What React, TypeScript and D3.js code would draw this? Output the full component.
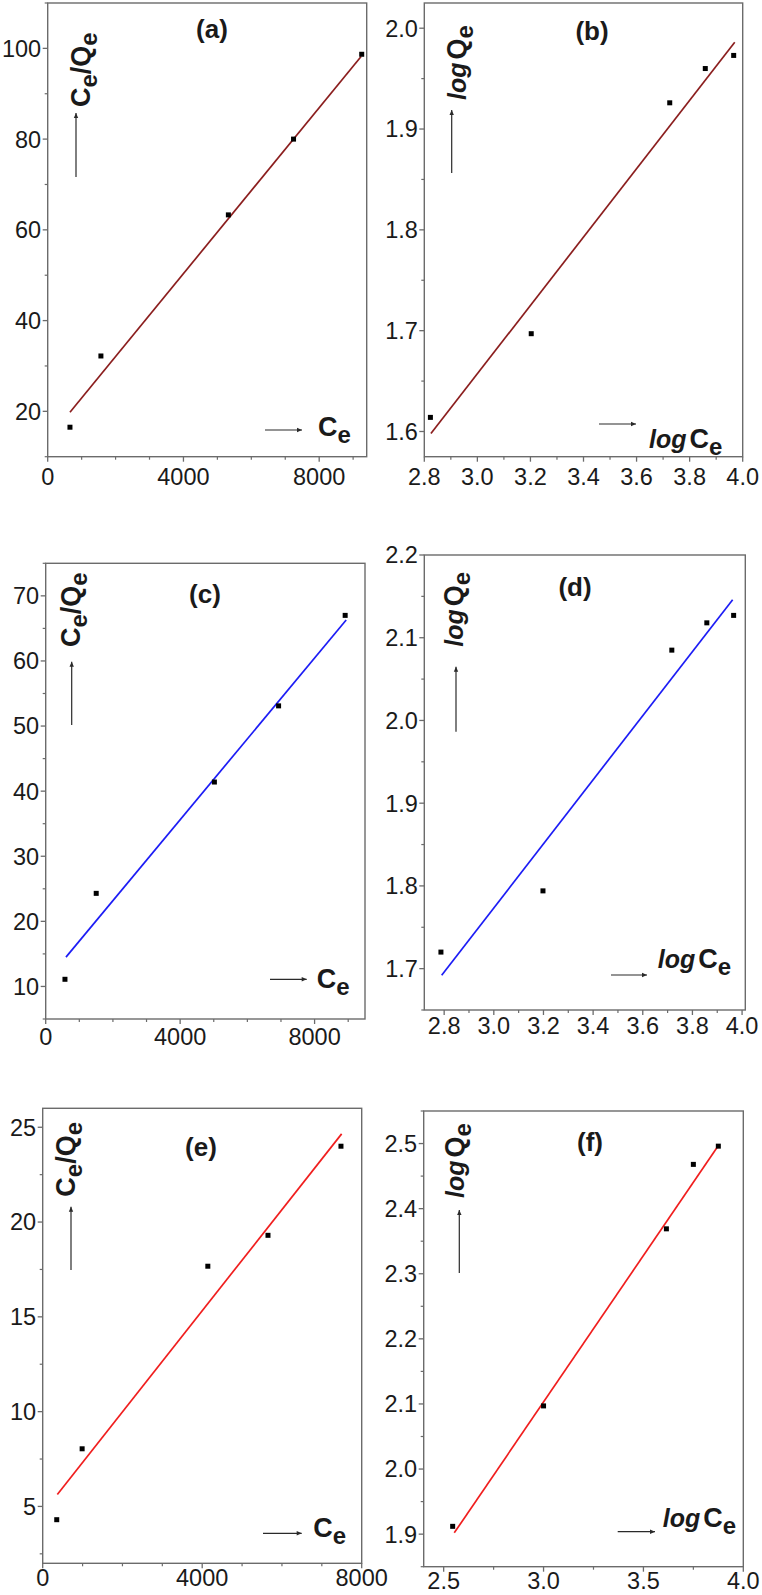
import React from "react";
import * as d3 from "d3";

// ---------- data ----------
// (a) Langmuir, dark red fit
const aCe = [656, 1568, 5324, 7244, 9253];
const aCeQe = [16.5, 32.2, 63.3, 80.0, 98.7];
const aFitX = [656, 9235];
const aFitY = [19.8, 98.2];
const aXTicks = [0, 4000, 8000];
const aYTicks = [20, 40, 60, 80, 100];

// (b) Freundlich, dark red fit
const bLogCe = [2.823, 3.203, 3.725, 3.859, 3.966];
const bLogQe = [1.614, 1.697, 1.926, 1.96, 1.973];
const bFitX = [2.825, 3.97];
const bFitY = [1.598, 1.986];
const bXTicks = [2.8, 3.0, 3.2, 3.4, 3.6, 3.8, 4.0];
const bYTicks = [1.6, 1.7, 1.8, 1.9, 2.0];

// (c) Langmuir, blue fit
const cCe = [573, 1503, 5019, 6929, 8910];
const cCeQe = [11.1, 24.3, 41.4, 53.1, 67.0];
const cFitX = [603, 8940];
const cFitY = [14.5, 66.3];
const cXTicks = [0, 4000, 8000];
const cYTicks = [10, 20, 30, 40, 50, 60, 70];

// (d) Freundlich, blue fit
const dLogCe = [2.787, 3.198, 3.717, 3.858, 3.966];
const dLogQe = [1.72, 1.794, 2.085, 2.118, 2.127];
const dFitX = [2.79, 3.962];
const dFitY = [1.692, 2.146];
const dXTicks = [2.8, 3.0, 3.2, 3.4, 3.6, 3.8, 4.0];
const dYTicks = [1.7, 1.8, 1.9, 2.0, 2.1, 2.2];

// (e) Langmuir, red fit
const eCe = [352, 989, 4141, 5650, 7480];
const eCeQe = [4.3, 8.04, 17.67, 19.3, 24.0];
const eFitX = [367, 7497];
const eFitY = [5.63, 24.65];
const eXTicks = [0, 4000, 8000];
const eYTicks = [5, 10, 15, 20, 25];

// (f) Freundlich, red fit
const fLogCe = [2.545, 3.0, 3.615, 3.75, 3.875];
const fLogQe = [1.912, 2.097, 2.369, 2.468, 2.496];
const fFitX = [2.553, 3.878];
const fFitY = [1.902, 2.498];
const fXTicks = [2.5, 3.0, 3.5, 4.0];
const fYTicks = [1.9, 2.0, 2.1, 2.2, 2.3, 2.4, 2.5];

const AXIS = "#6b6b6b";
const TXT = "#1a1a1a";
const FONT = "'Liberation Sans', Arial, sans-serif";
const TICK_FS = 23.5;

type PanelProps = {
  box: [number, number, number, number];
  xDomain: [number, number];
  yDomain: [number, number];
  xTicks: number[];
  yTicks: number[];
  xMinorStep: number;
  yMinorStep: number;
  xFmt: (v: number) => string;
  yFmt: (v: number) => string;
  xs: number[];
  ys: number[];
  fitX: number[];
  fitY: number[];
  color: string;
  title: string;
  titlePos: [number, number];
  xLabelBase: number;
  kind: "lang" | "freund";
  yLab: [number, number];
  vArrow: [number, number, number];
  xLab: [number, number];
  hArrow: [number, number, number];
};

function Arrow({ x1, y1, x2, y2 }: { x1: number; y1: number; x2: number; y2: number }) {
  const ang = Math.atan2(y2 - y1, x2 - x1);
  const L = 5, Wd = 2.2;
  const p = [
    [x2, y2],
    [x2 - L * Math.cos(ang) + Wd * Math.sin(ang), y2 - L * Math.sin(ang) - Wd * Math.cos(ang)],
    [x2 - L * Math.cos(ang) - Wd * Math.sin(ang), y2 - L * Math.sin(ang) + Wd * Math.cos(ang)],
  ];
  return (
    <g>
      <line x1={x1} y1={y1} x2={x2} y2={y2} stroke="#2a2a2a" strokeWidth={1.2} />
      <polygon points={p.map((q) => q.join(",")).join(" ")} fill="#2a2a2a" />
    </g>
  );
}

function Panel(p: PanelProps) {
  const [l, t, r, b] = p.box;
  const x = d3.scaleLinear().domain(p.xDomain).range([l, r]);
  const y = d3.scaleLinear().domain(p.yDomain).range([b, t]);
  const eps = 1e-9;
  const xMinor = d3
    .range(Math.ceil(p.xDomain[0] / p.xMinorStep - eps) * p.xMinorStep, p.xDomain[1] + eps, p.xMinorStep)
    .filter((v) => !p.xTicks.some((m) => Math.abs(m - v) < p.xMinorStep / 10));
  const yMinor = d3
    .range(Math.ceil(p.yDomain[0] / p.yMinorStep - eps) * p.yMinorStep, p.yDomain[1] + eps, p.yMinorStep)
    .filter((v) => !p.yTicks.some((m) => Math.abs(m - v) < p.yMinorStep / 10));
  const line = d3
    .line<number>()
    .x((_, i) => x(p.fitX[i]))
    .y((d) => y(d));
  const big = 27, sub = 24, logFs = 25, sdy = 7;
  return (
    <g>
      <rect x={l} y={t} width={r - l} height={b - t} fill="none" stroke={AXIS} strokeWidth={1.4} />
      {p.xTicks.map((v) => (
        <g key={"xt" + v}>
          <line x1={x(v)} x2={x(v)} y1={b} y2={b + 5} stroke={AXIS} strokeWidth={1.3} />
          <text x={x(v)} y={p.xLabelBase} textAnchor="middle" fontSize={TICK_FS} fill={TXT} fontFamily={FONT}>
            {p.xFmt(v)}
          </text>
        </g>
      ))}
      {xMinor.map((v) => (
        <line key={"xm" + v} x1={x(v)} x2={x(v)} y1={b} y2={b + 3} stroke={AXIS} strokeWidth={1.2} />
      ))}
      {p.yTicks.map((v) => (
        <g key={"yt" + v}>
          <line x1={l - 5} x2={l} y1={y(v)} y2={y(v)} stroke={AXIS} strokeWidth={1.3} />
          <text x={l - 6.5} y={y(v) + 8.4} textAnchor="end" fontSize={TICK_FS} fill={TXT} fontFamily={FONT}>
            {p.yFmt(v)}
          </text>
        </g>
      ))}
      {yMinor.map((v) => (
        <line key={"ym" + v} x1={l - 3} x2={l} y1={y(v)} y2={y(v)} stroke={AXIS} strokeWidth={1.2} />
      ))}
      <path d={line(p.fitY) || ""} fill="none" stroke={p.color} strokeWidth={1.7} />
      {p.xs.map((v, i) => (
        <rect key={"pt" + i} x={x(v) - 2.5} y={y(p.ys[i]) - 2.5} width={5} height={5} fill="#000" />
      ))}
      <text x={p.titlePos[0]} y={p.titlePos[1]} textAnchor="middle" fontSize={26} fontWeight="bold" fill={TXT} fontFamily={FONT}>
        {p.title}
      </text>
      {/* y label */}
      <text
        transform={`translate(${p.yLab[0]},${p.yLab[1]}) rotate(-90)`}
        fontSize={big}
        fontWeight="bold"
        fill={TXT}
        fontFamily={FONT}
      >
        {p.kind === "lang" ? (
          <>
            <tspan>C</tspan>
            <tspan fontSize={sub} dy={sdy}>e</tspan>
            <tspan dy={-sdy}>/Q</tspan>
            <tspan fontSize={sub} dy={sdy}>e</tspan>
          </>
        ) : (
          <>
            <tspan fontStyle="italic" fontSize={logFs}>log</tspan>
            <tspan dx={3}>Q</tspan>
            <tspan fontSize={sub} dy={sdy}>e</tspan>
          </>
        )}
      </text>
      <Arrow x1={p.vArrow[0]} y1={p.vArrow[1]} x2={p.vArrow[0]} y2={p.vArrow[2]} />
      {/* x label */}
      <text x={p.xLab[0]} y={p.xLab[1]} fontSize={big} fontWeight="bold" fill={TXT} fontFamily={FONT}>
        {p.kind === "lang" ? (
          <>
            <tspan>C</tspan>
            <tspan fontSize={sub} dy={sdy}>e</tspan>
          </>
        ) : (
          <>
            <tspan fontStyle="italic" fontSize={logFs}>log</tspan>
            <tspan dx={3}>C</tspan>
            <tspan fontSize={sub} dy={sdy}>e</tspan>
          </>
        )}
      </text>
      <Arrow x1={p.hArrow[0]} y1={p.hArrow[2]} x2={p.hArrow[1]} y2={p.hArrow[2]} />
    </g>
  );
}

const f0 = (v: number) => d3.format("d")(v);
const f1 = (v: number) => d3.format(".1f")(v);

export default function App() {
  return (
    <svg
      width={762}
      height={1595}
      style={{ position: "absolute", left: 0, top: 0, background: "#fff" }}
      xmlns="http://www.w3.org/2000/svg"
    >
      <rect width={762} height={1595} fill="#fff" />
      <Panel
        box={[47.7, 3, 366.7, 456.7]}
        xDomain={[0, 9400]}
        yDomain={[10, 110]}
        xTicks={aXTicks}
        yTicks={aYTicks}
        xMinorStep={1000}
        yMinorStep={10}
        xFmt={f0}
        yFmt={f0}
        xs={aCe}
        ys={aCeQe}
        fitX={aFitX}
        fitY={aFitY}
        color="#8b1e1e"
        title="(a)"
        titlePos={[212, 38]}
        xLabelBase={485}
        kind="lang"
        yLab={[90, 107]}
        vArrow={[76, 177, 113]}
        xLab={[318, 436]}
        hArrow={[265, 302, 430]}
      />
      <Panel
        box={[424.3, 3, 742.7, 456.7]}
        xDomain={[2.8, 4.0]}
        yDomain={[1.575, 2.025]}
        xTicks={bXTicks}
        yTicks={bYTicks}
        xMinorStep={0.1}
        yMinorStep={0.05}
        xFmt={f1}
        yFmt={f1}
        xs={bLogCe}
        ys={bLogQe}
        fitX={bFitX}
        fitY={bFitY}
        color="#8b1e1e"
        title="(b)"
        titlePos={[592, 40]}
        xLabelBase={485}
        kind="freund"
        yLab={[466, 100]}
        vArrow={[451.7, 173, 110]}
        xLab={[649, 448]}
        hArrow={[599, 636, 424]}
      />
      <Panel
        box={[45.7, 563.3, 365, 1019]}
        xDomain={[0, 9500]}
        yDomain={[5, 75]}
        xTicks={cXTicks}
        yTicks={cYTicks}
        xMinorStep={1000}
        yMinorStep={5}
        xFmt={f0}
        yFmt={f0}
        xs={cCe}
        ys={cCeQe}
        fitX={cFitX}
        fitY={cFitY}
        color="#1c1cf5"
        title="(c)"
        titlePos={[205, 603]}
        xLabelBase={1045}
        kind="lang"
        yLab={[80, 647]}
        vArrow={[71.7, 725, 661.7]}
        xLab={[316.7, 988]}
        hArrow={[270, 306.7, 979.3]}
      />
      <Panel
        box={[424.3, 555, 745.3, 1010]}
        xDomain={[2.72, 4.013]}
        yDomain={[1.65, 2.2]}
        xTicks={dXTicks}
        yTicks={dYTicks}
        xMinorStep={0.1}
        yMinorStep={0.05}
        xFmt={f1}
        yFmt={f1}
        xs={dLogCe}
        ys={dLogQe}
        fitX={dFitX}
        fitY={dFitY}
        color="#1c1cf5"
        title="(d)"
        titlePos={[575, 596]}
        xLabelBase={1034}
        kind="freund"
        yLab={[462.7, 646.7]}
        vArrow={[456, 731.7, 666.7]}
        xLab={[657.7, 968]}
        hArrow={[611, 647, 975]}
      />
      <Panel
        box={[42.7, 1108.3, 361.7, 1563.3]}
        xDomain={[0, 8000]}
        yDomain={[2, 26]}
        xTicks={eXTicks}
        yTicks={eYTicks}
        xMinorStep={1000}
        yMinorStep={2.5}
        xFmt={f0}
        yFmt={f0}
        xs={eCe}
        ys={eCeQe}
        fitX={eFitX}
        fitY={eFitY}
        color="#f01e1e"
        title="(e)"
        titlePos={[201, 1156]}
        xLabelBase={1586}
        kind="lang"
        yLab={[75, 1196.7]}
        vArrow={[71, 1270, 1206.7]}
        xLab={[313.3, 1537]}
        hArrow={[263, 301.7, 1533.3]}
      />
      <Panel
        box={[423.7, 1111, 743.3, 1566.7]}
        xDomain={[2.4, 4.0]}
        yDomain={[1.85, 2.55]}
        xTicks={fXTicks}
        yTicks={fYTicks}
        xMinorStep={0.25}
        yMinorStep={0.05}
        xFmt={f1}
        yFmt={f1}
        xs={fLogCe}
        ys={fLogQe}
        fitX={fFitX}
        fitY={fFitY}
        color="#f01e1e"
        title="(f)"
        titlePos={[590, 1151]}
        xLabelBase={1589}
        kind="freund"
        yLab={[464.3, 1198]}
        vArrow={[459.3, 1273, 1210]}
        xLab={[662.7, 1527]}
        hArrow={[617.7, 655, 1531.7]}
      />
    </svg>
  );
}
